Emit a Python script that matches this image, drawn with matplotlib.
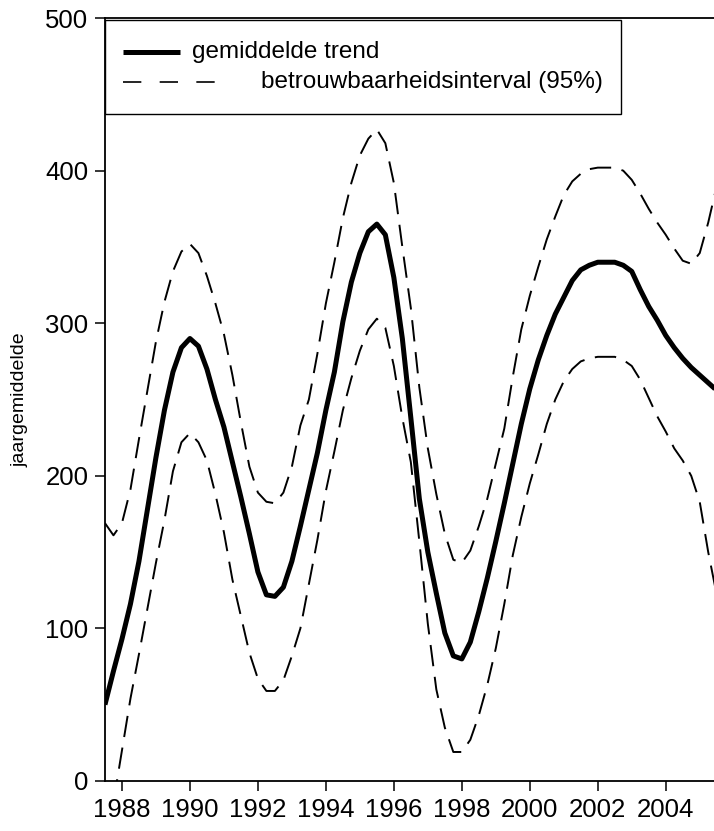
import matplotlib.pyplot as plt
from matplotlib.patches import Rectangle

plt.rcParams['font.family'] = ['Liberation Sans', 'DejaVu Sans']

# years, every quarter year
years = [1987.5 + 0.25 * i for i in range(73)]

mean_trend = [50, 72, 93, 116, 144, 178, 212, 243, 268, 284,
              290, 285, 270, 250, 232, 209, 186, 162, 137, 122,
              121, 127, 144, 167, 191, 215, 243, 268, 301, 327,
              346, 360, 365, 358, 330, 290, 238, 185, 150, 123,
              97, 82, 80, 91, 111, 133, 157, 182, 208, 234,
              257, 276, 292, 306, 317, 328, 335, 338, 340, 340,
              340, 338, 334, 322, 311, 302, 292, 284, 277, 271,
              266, 261, 256]

upper = [169, 161, 169, 191, 224, 256, 288, 314, 334, 347,
         352, 346, 331, 313, 293, 266, 235, 206, 189, 183,
         182, 189, 206, 233, 250, 280, 313, 340, 369, 392,
         410, 421, 427, 418, 392, 350, 310, 258, 218, 188,
         162, 145, 143, 151, 167, 185, 208, 231, 265, 296,
         318, 337, 355, 370, 384, 393, 398, 401, 402, 402,
         402, 400, 394, 385, 375, 366, 358, 349, 341, 339,
         346, 366, 390]

lower = [-48, -14, 20, 54, 83, 113, 143, 171, 203, 222,
         228, 222, 210, 188, 163, 132, 108, 84, 67, 59,
         59, 66, 82, 100, 129, 158, 190, 216, 243, 264,
         282, 296, 303, 297, 272, 238, 209, 157, 103, 60,
         35, 19, 19, 27, 43, 63, 87, 116, 148, 173,
         195, 214, 234, 250, 262, 270, 275, 277, 278, 278,
         278, 276, 272, 263, 251, 239, 229, 218, 210, 200,
         183, 150, 122]

xticks = list(range(1988, 2005, 2))
yticks = list(range(0, 501, 100))

fig = plt.figure(figsize=(7.14, 8.31), dpi=100)
ax = fig.add_axes([0.147, 0.0602, 0.853, 0.918])

dash = (0, (11, 5.5))
ax.plot(years, upper, color='black', lw=1.4, linestyle=dash)
ax.plot(years, lower, color='black', lw=1.4, linestyle=dash)
ax.plot(years, mean_trend, color='black', lw=3.6, solid_capstyle='butt')

ax.set_xlim(1987.5, 2005.42)
ax.set_ylim(0, 500)
ax.set_xticks(xticks)
ax.set_yticks(yticks)
ax.tick_params(direction='out', length=7, width=1.1, labelsize=18.5, pad=5,
               colors='black')
ax.set_ylabel('jaargemiddelde', fontsize=14, labelpad=12)

for s in ['left', 'bottom', 'top']:
    ax.spines[s].set_linewidth(1.3)
ax.spines['right'].set_visible(False)

# legend box drawn by hand, second label is indented in the original
ax.add_patch(Rectangle((0.0, 0.874), 0.847, 0.123, transform=ax.transAxes,
                       facecolor='white', edgecolor='black', lw=1.0,
                       zorder=5, clip_on=False))
ax.plot([0.030, 0.123], [0.955, 0.955], transform=ax.transAxes,
        color='black', lw=3.6, zorder=6, solid_capstyle='butt')
ax.text(0.143, 0.955, 'gemiddelde trend', transform=ax.transAxes,
        fontsize=17.5, va='center', zorder=6)
ax.plot([0.030, 0.194], [0.916, 0.916], transform=ax.transAxes,
        color='black', lw=1.2, zorder=6, linestyle=(0, (11, 11)))
ax.text(0.256, 0.916, 'betrouwbaarheidsinterval (95%)',
        transform=ax.transAxes, fontsize=17.5, va='center', zorder=6)

fig.savefig('out.png', dpi=100)
